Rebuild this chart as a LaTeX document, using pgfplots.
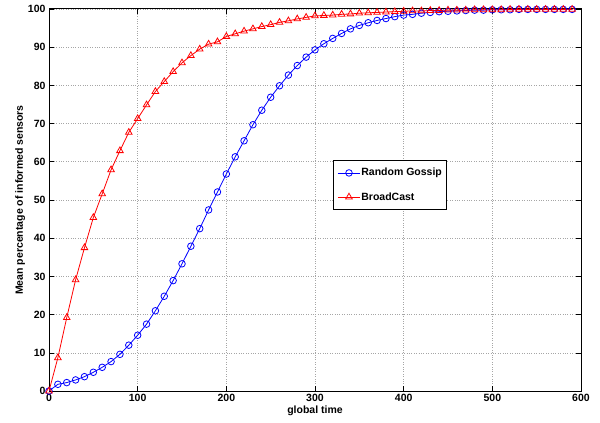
\documentclass[border=0pt]{standalone}
\usepackage{pgfplots}
\pgfplotsset{compat=1.18}
\usepackage{fontspec}
\setmainfont{Liberation Sans}
\begin{document}
\begin{tikzpicture}[x=1pt,y=1pt]
\begin{axis}[
  scale only axis, width=532pt, height=382pt,
  xmin=0, xmax=600, ymin=0, ymax=100,
  xtick={0,100,...,600}, ytick={0,10,...,100},
  tick align=inside, major tick length=5pt,
  tick style={black, line width=0.6pt},
  axis line style={black, line width=1pt},
  grid=major, grid style={dotted, gray!70, line width=0.6pt},
  font=\bfseries\fontsize{10.5}{12}\selectfont,
  /pgf/number format/assume math mode=true,
  ticklabel style={font=\bfseries\fontsize{10.5}{12}\selectfont},
  xlabel={global time}, ylabel={Mean percentage of informed sensors},
  xlabel style={yshift=3pt},
  ylabel style={yshift=-4pt},
  legend style={at={(0.534,0.605)}, anchor=north west, draw=black, line width=1pt,
    font=\bfseries\fontsize{10.5}{12}\selectfont, inner xsep=4pt, inner ysep=7pt, row sep=13pt,
    legend cell align=left, nodes={inner sep=1pt}},
  legend image code/.code={\draw[#1, line width=0.8pt] (0pt,0pt) -- (22pt,0pt); \draw[#1, mark repeat=1] plot coordinates {(11pt,0pt)};},
]
\addplot[blue, line width=0.8pt, mark=o, mark size=3.3pt, mark options={line width=0.8pt}] coordinates {
(0,0) (10,1.75) (20,2.2) (30,2.9) (40,3.75) (50,4.9) (60,6.2) (70,7.7) (80,9.6) (90,12.0)
(100,14.6) (110,17.5) (120,21.0) (130,24.8) (140,28.9) (150,33.3) (160,37.9) (170,42.5) (180,47.4) (190,52.1)
(200,56.8) (210,61.3) (220,65.5) (230,69.7) (240,73.5) (250,76.9) (260,79.9) (270,82.7) (280,85.2) (290,87.4)
(300,89.3) (310,90.9) (320,92.3) (330,93.6) (340,94.8) (350,95.7) (360,96.4) (370,97.0) (380,97.5) (390,98.0)
(400,98.4) (410,98.6) (420,98.9) (430,99.1) (440,99.3) (450,99.4) (460,99.5) (470,99.6) (480,99.7) (490,99.7)
(500,99.8) (510,99.8) (520,99.8) (530,99.9) (540,99.9) (550,99.9) (560,99.9) (570,99.9) (580,99.9) (590,99.9)
};
\addlegendentry{Random Gossip}
\addplot[red, line width=0.8pt, mark=triangle, mark size=3.8pt, mark options={line width=0.8pt}] coordinates {
(0,0) (10,8.7) (20,19.2) (30,29.1) (40,37.5) (50,45.4) (60,51.6) (70,57.9) (80,62.9) (90,67.7)
(100,71.3) (110,74.9) (120,78.4) (130,81.0) (140,83.6) (150,85.9) (160,87.8) (170,89.5) (180,90.8) (190,91.4)
(200,92.8) (210,93.5) (220,94.2) (230,94.8) (240,95.4) (250,95.9) (260,96.5) (270,96.9) (280,97.4) (290,97.8)
(300,98.2) (310,98.3) (320,98.4) (330,98.6) (340,98.7) (350,98.9) (360,99.0) (370,99.1) (380,99.2) (390,99.3)
(400,99.4) (410,99.5) (420,99.5) (430,99.6) (440,99.6) (450,99.7) (460,99.7) (470,99.7) (480,99.8) (490,99.8)
(500,99.8) (510,99.8) (520,99.9) (530,99.9) (540,99.9) (550,99.9) (560,99.9) (570,99.9) (580,99.9) (590,99.9)
};
\addlegendentry{BroadCast}
\coordinate (sw) at (rel axis cs:0,0);
\coordinate (ne) at (rel axis cs:1,1);
\end{axis}
\pgfresetboundingbox
\path ([xshift=-49pt,yshift=-31pt]sw) rectangle ([xshift=19pt,yshift=9pt]ne);
\end{tikzpicture}
\end{document}
